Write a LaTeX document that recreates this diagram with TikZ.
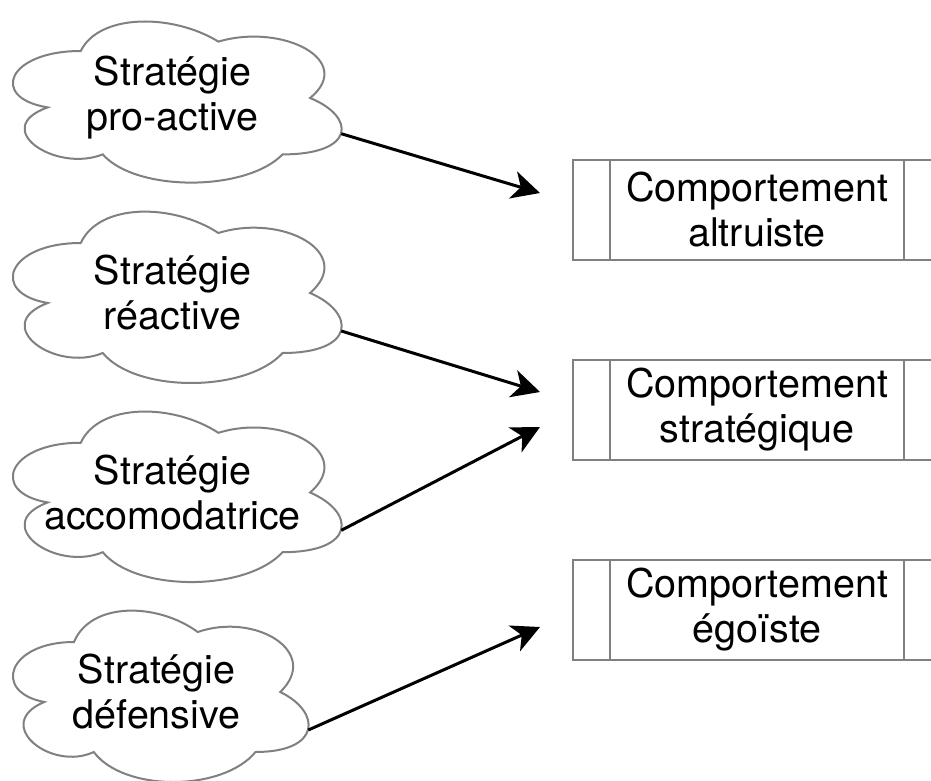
\documentclass[tikz,border=0pt]{standalone}
\usepackage{fontspec}
\setmainfont{TeX Gyre Heros}
\usetikzlibrary{arrows.meta,positioning}

\tikzset{
  outline/.style={draw=gray, line width=1pt, fill=white},
  stratext/.style={align=center, font=\fontsize{19.75}{22.5}\selectfont},
  behaviour/.style={stratext, outline, minimum width=184pt, minimum height=50pt, inner sep=0pt},
  flow/.style={-{Stealth[length=14pt,width=14pt,inset=4pt]}, line width=1.5pt},
  stratcloud/.pic={
    \draw[outline] (0.25,0.25) .. controls (0.05,0.25) and (0,0.5) .. (0.16,0.55)
      .. controls (0,0.66) and (0.18,0.9) .. (0.31,0.8)
      .. controls (0.4,1) and (0.7,1) .. (0.8,0.8)
      .. controls (1,0.8) and (1,0.6) .. (0.875,0.5)
      .. controls (1,0.3) and (0.8,0.1) .. (0.625,0.2)
      .. controls (0.5,0.05) and (0.3,0.05) .. (0.25,0.25) -- cycle;
    \coordinate (-mid) at (0.5,0.5);
    \coordinate (-out) at (0.96,0.69);
  }
}

\begin{document}
\begin{tikzpicture}[x=0.5pt,y=-0.5pt]
\useasboundingbox (0,0) rectangle (931,781);

% strategies
\pic[xscale=367,yscale=188] (c1) at (-11,4) {stratcloud};
\pic[xscale=367,yscale=200] (c2) at (-11,193) {stratcloud};
\pic[xscale=367,yscale=199] (c3) at (-11,393) {stratcloud};
\pic[xscale=330,yscale=200] (c4) at (-8.5,592) {stratcloud};
\node[stratext] (s1) at (c1-mid) {Stratégie\\pro-active};
\node[stratext] (s2) at (c2-mid) {Stratégie\\réactive};
\node[stratext] (s3) at (c3-mid) {Stratégie\\accomodatrice};
\node[stratext] (s4) at (c4-mid) {Stratégie\\défensive};

% behaviours
\node[behaviour] (b1) at (757,210) {Comportement\\altruiste};
\node[behaviour] (b2) at (757,410) {Comportement\\stratégique};
\node[behaviour] (b3) at (757,610) {Comportement\\égoïste};
\foreach \b in {b1,b2,b3} {
  \draw[outline] ([xshift=19pt]\b.north west) -- ([xshift=19pt]\b.south west);
  \draw[outline] ([xshift=-19pt]\b.north east) -- ([xshift=-19pt]\b.south east);
}

\coordinate (t1) at ([shift={(-32,-17)}]b1.west);
\coordinate (t2) at ([shift={(-32,-18)}]b2.west);
\coordinate (t3) at ([shift={(-32,17)}]b2.west);
\coordinate (t4) at ([shift={(-32,17)}]b3.west);

\draw[flow] (c1-out) -- (t1);
\draw[flow] (c2-out) -- (t2);
\draw[flow] (c3-out) -- (t3);
\draw[flow] (c4-out) -- (t4);
\end{tikzpicture}
\end{document}
